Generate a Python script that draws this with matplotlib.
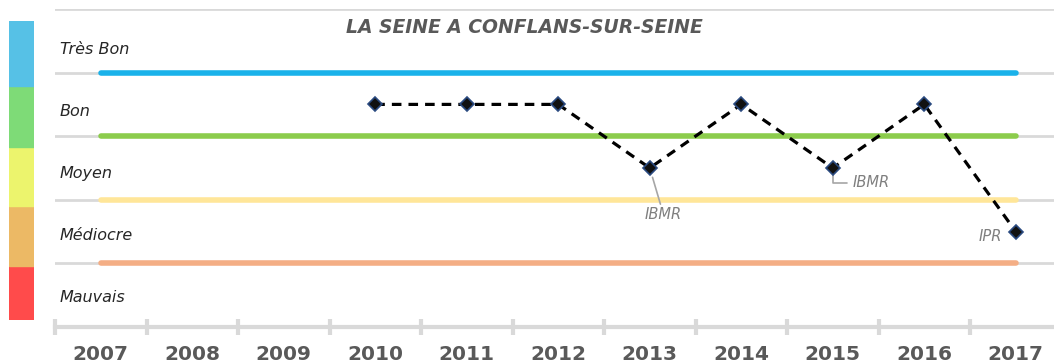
import matplotlib
matplotlib.use('Agg')
import matplotlib.pyplot as plt
from matplotlib.patches import Rectangle
import numpy as np

years = ["2007", "2008", "2009", "2010", "2011", "2012", "2013", "2014", "2015", "2016", "2017"]
classes = ["Mauvais", "Médiocre", "Moyen", "Bon", "Très Bon"]
# seuils de classe (une ligne horizontale par limite)
thresholds = [1, 2, 3, 4]
threshold_colors = ["#f4ae85", "#ffe699", "#8ccc4c", "#1ab2ea"]
# etat mesure chaque annee (None = pas de mesure)
state = [None, None, None, 3.5, 3.5, 3.5, 2.5, 3.5, 2.5, 3.5, 1.5]
notes = {6: "IBMR", 8: "IBMR", 10: "IPR"}
bar_colors = ["#ff4b4b", "#ecb965", "#ecf46d", "#7edb77", "#56c1e6"]

W, H = 1054, 363
fig = plt.figure(figsize=(W / 100, H / 100), dpi=100)

def px(x0, y0, x1, y1):
    return [x0 / W, 1 - y1 / H, (x1 - x0) / W, (y1 - y0) / H]

ax = fig.add_axes(px(55, 9, 1054, 327))
x = np.arange(len(years))
ax.set_xlim(-0.5, (1054 - 55) / 91.5 - 0.5)
ax.set_ylim(0, 5)

# lignes grises de fond
for v in range(1, 6):
    ax.axhline(v, color="#d9d9d9", lw=2, zorder=1)

# seuils colores
for t, c in zip(thresholds, threshold_colors):
    ax.plot(x, [t] * len(x), color=c, lw=4, solid_capstyle="round", zorder=2)

# serie de l'etat
xs = [i for i, v in enumerate(state) if v is not None]
ys = [state[i] for i in xs]
ax.plot(xs, ys, color="black", lw=2.3, ls=(0, (3, 2.2)), zorder=3)
ax.plot(xs, ys, ls="none", marker="D", ms=7.5, mfc="#111111", mec="#2a4a80", mew=1.2, zorder=4)

# libelles de classe
for k, name in enumerate(classes):
    ax.text(-0.45, k + 0.46 - 0.025 * k, name, fontsize=11.5, style="italic",
            color="#262626", ha="left", va="center", zorder=5)

# etiquettes des points
ann = dict(fontsize=10.5, style="italic", color="#7f7f7f")
ax.annotate(notes[6], xy=(6, state[6]), xytext=(6.15, 1.77), ha="center", va="center",
            arrowprops=dict(arrowstyle="-", color="#a6a6a6", lw=1.2, shrinkA=0, shrinkB=7), **ann)
ax.annotate(notes[8], xy=(8, state[8]), xytext=(8.22, 2.27), ha="left", va="center",
            arrowprops=dict(arrowstyle="-", color="#a6a6a6", lw=1.2, shrinkA=2, shrinkB=0,
                            connectionstyle="angle,angleA=0,angleB=90,rad=0"), **ann)
ax.text(9.85, 1.42, notes[10], ha="right", va="center", **ann)

# axe des x
for s in ["top", "right", "left"]:
    ax.spines[s].set_visible(False)
ax.spines["bottom"].set_color("#d9d9d9")
ax.spines["bottom"].set_linewidth(3)
ax.set_yticks([])
ax.set_xticks(np.arange(-0.5, 10, 1.0))
ax.set_xticks(x, minor=True)
ax.set_xticklabels([])
ax.set_xticklabels(years, minor=True, fontsize=14.5, fontweight="bold", color="#595959")
ax.tick_params(axis="x", which="major", direction="inout", length=11, width=3, color="#d9d9d9")
ax.tick_params(axis="x", which="minor", length=0, pad=13)

ax.text(0.47, 0.943, "LA SEINE A CONFLANS-SUR-SEINE", transform=ax.transAxes,
        ha="center", va="center", fontsize=13.5, fontweight="bold", style="italic",
        color="#595959")

# barre de couleurs des classes
bx = fig.add_axes(px(9, 21, 34, 320))
bx.set_xlim(0, 1)
bx.set_ylim(0, 1)
bx.axis("off")
edges = [320, 266, 206, 147, 86, 21]
for i, c in enumerate(bar_colors):
    y0 = (320 - edges[i]) / 299
    y1 = (320 - edges[i + 1]) / 299
    bx.add_patch(Rectangle((0, y0), 1, y1 - y0, color=c))

fig.savefig("out.png", dpi=100)
